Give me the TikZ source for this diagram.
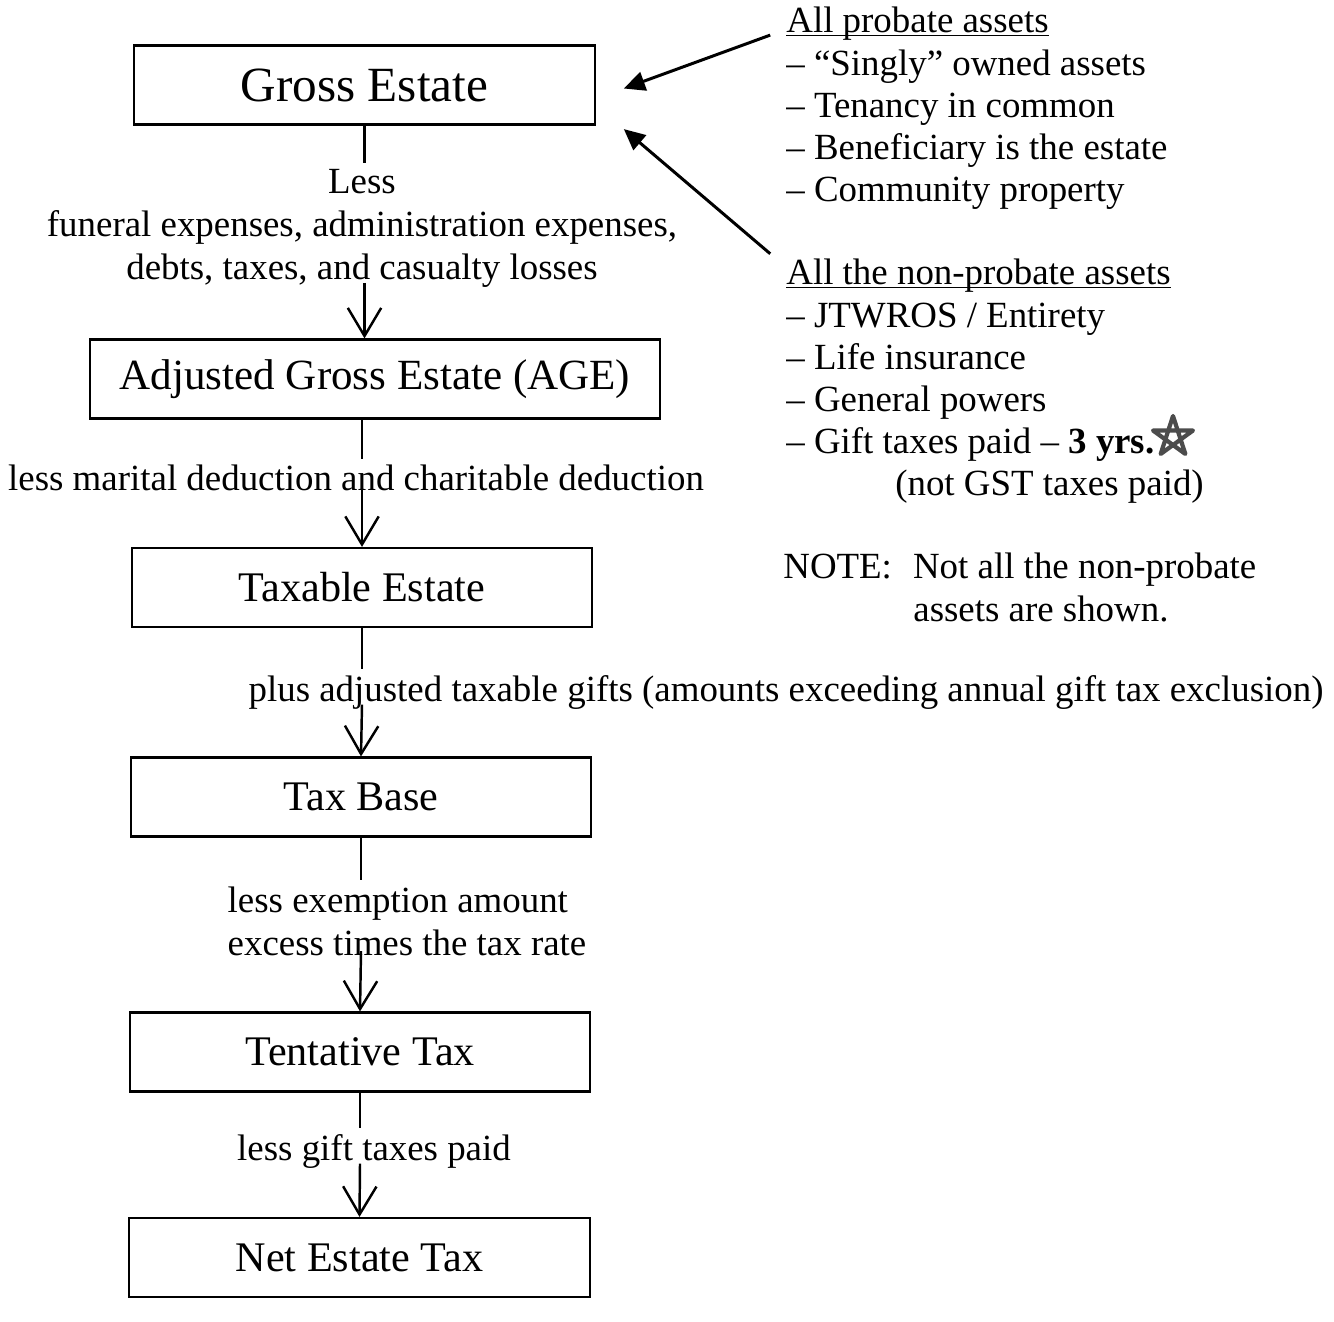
\documentclass[tikz,border=0pt]{standalone}
\usepackage{fontspec}
\setmainfont{Liberation Serif}
\usetikzlibrary{arrows.meta}

\tikzstyle{stage}      = [draw,line width=1.2pt,minimum width=262pt,minimum height=45pt,font=\fontsize{24}{28}\selectfont]
\tikzstyle{less note}  = [align=center,font=\fontsize{21}{24.5}\selectfont]
\tikzstyle{asset list} = [anchor=north west,align=left,inner sep=0pt,font=\fontsize{21}{24}\selectfont]
\tikzstyle{flow}       = [line width=1.4pt]
\tikzstyle{flow arrow} = [flow,-{Straight Barb[length=16pt,width=19pt,line width=1.4pt]}]
\tikzstyle{pointer}    = [line width=1.7pt,-{Triangle[length=12pt,width=11pt]}]

\newcommand{\headline}[1]{\underline{\smash{#1}\vphantom{Al}}}

\begin{document}
\begin{tikzpicture}[x=0.02cm,y=-0.02cm]
\useasboundingbox (0,0) rectangle (1334,1321);
% Draw the stages of the estate tax computation
\node[stage,font=\fontsize{28}{32}\selectfont] (gross) at (364.5,85) {Gross Estate};
\node[stage,minimum width=324pt,font=\fontsize{24.5}{28}\selectfont] (age) at (375,379) {Adjusted Gross Estate (AGE)};
\node[stage] (taxable)   at (362,587.5) {Taxable Estate};
\node[stage] (base)      at (361,797)   {Tax Base};
\node[stage] (tentative) at (360,1052)  {Tentative Tax};
\node[stage] (net)       at (359.5,1257.5) {Net Estate Tax};
% Draw what is taken off or added between the stages
\node[less note] (lessA) at (362,228) {Less\\funeral expenses, administration expenses,\\debts, taxes, and casualty losses};
\node[less note] (lessB) at (356,478) {less marital deduction and charitable deduction};
\node[less note] (plusC) at (786,692) {plus adjusted taxable gifts (amounts exceeding annual gift tax exclusion)};
\node[less note,align=left] (lessD) at (407,921) {less exemption amount\\excess times the tax rate};
\node[less note] (lessE) at (374,1151) {less gift taxes paid};
% Draw the connectors, broken by the labels
\draw[flow] (gross.south) -- (gross.south |- lessA.north);
\draw[flow arrow] ([yshift=6pt]gross.south |- lessA.south) -- (gross.south |- age.north);
\draw[flow] (taxable.north |- age.south) -- (taxable.north |- lessB.north);
\draw[flow arrow] ([yshift=6pt]taxable.north |- lessB.south) -- (taxable.north);
\draw[flow] (taxable.south) -- (taxable.south |- plusC.north);
\draw[flow arrow] ([yshift=6pt]taxable.south |- plusC.south) -- (base.north);
\draw[flow] (base.south) -- (base.south |- lessD.north);
\draw[flow arrow] ([yshift=6pt]base.south |- lessD.south) -- (tentative.north);
\draw[flow] (tentative.south) -- (tentative.south |- lessE.north);
\draw[flow arrow] ([yshift=6pt]tentative.south |- lessE.south) -- (net.north);
% Draw the asset lists
\node[asset list] (probate) at (786,7) {\headline{All probate assets}\\– “Singly” owned assets\\– Tenancy in common\\– Beneficiary is the estate\\– Community property};
\node[asset list] (nonprobate) at (786,259) {\headline{All the non-probate assets}\\– JTWROS / Entirety\\– Life insurance\\– General powers\\– Gift taxes paid – \textbf{3 yrs.}\\\hspace*{62pt}(not GST taxes paid)};
\node[asset list] (note) at (783,553) {NOTE:\hspace{12pt}Not all the non-probate\\\hspace*{74pt}assets are shown.};
\draw[pointer] ([xshift=-9pt,yshift=-16pt]probate.north west) -- ([xshift=16pt,yshift=-2pt]gross.east);
\draw[pointer] ([xshift=-9pt,yshift=3pt]nonprobate.north west) -- ([xshift=16pt,yshift=-2pt]gross.south east);
% hand drawn star
\draw[gray!60!black,line width=2.4pt,line join=round] (1173,437)
  +(270:21) -- +(54:21) -- +(198:21) -- +(342:21) -- +(126:21) -- cycle;
\end{tikzpicture}
\end{document}
